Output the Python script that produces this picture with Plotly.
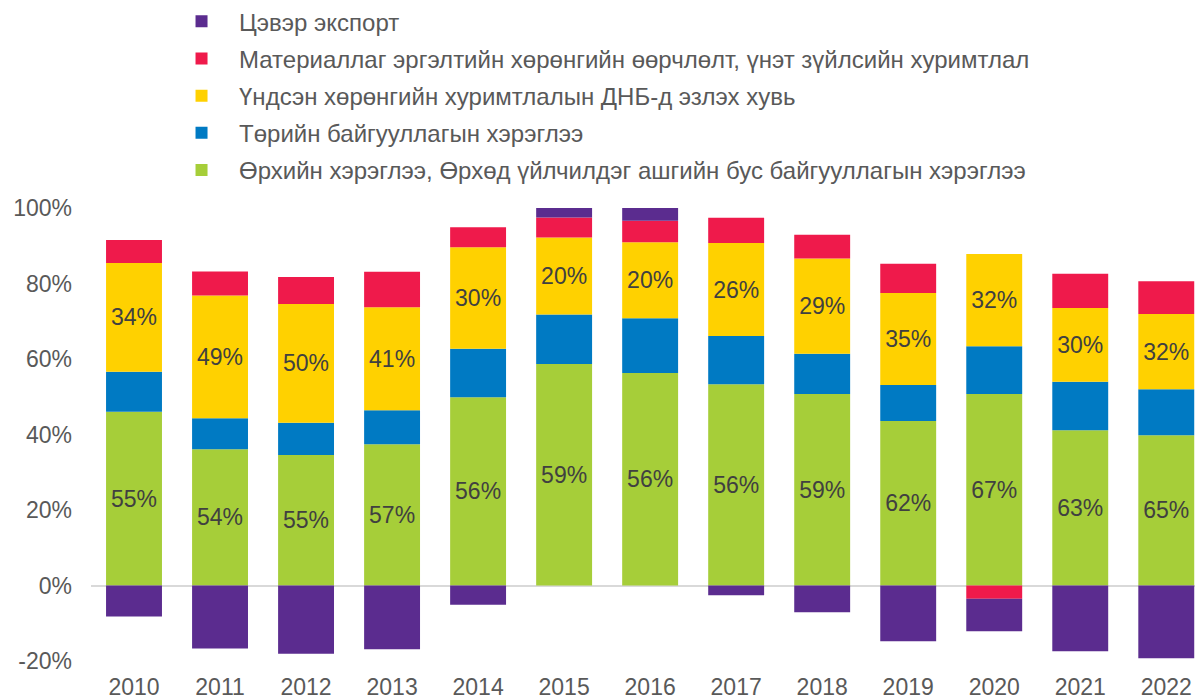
import plotly.graph_objects as go

years = ["2010","2011","2012","2013","2014","2015","2016","2017","2018","2019","2020","2021","2022"]

green = [46.0, 36.1, 34.6, 37.4, 49.9, 58.7, 56.3, 53.3, 50.7, 43.6, 50.7, 41.1, 39.8]
blue = [10.6, 8.2, 8.5, 9.0, 12.8, 13.1, 14.5, 12.8, 10.7, 9.5, 12.7, 12.9, 12.2]
yellow = [28.8, 32.5, 31.5, 27.3, 26.9, 20.4, 20.1, 24.6, 25.2, 24.4, 24.4, 19.5, 19.9]
red = [6.1, 6.4, 7.1, 9.4, 5.3, 5.3, 5.7, 6.7, 6.3, 7.7, -3.5, 9.1, 8.7]
purple = [-8.2, -16.7, -18.1, -16.9, -5.1, 2.5, 3.4, -2.6, -7.1, -14.8, -8.6, -17.4, -19.3]

green_labels = ["55%","54%","55%","57%","56%","59%","56%","56%","59%","62%","67%","63%","65%"]
yellow_labels = ["34%","49%","50%","41%","30%","20%","20%","26%","29%","35%","32%","30%","32%"]

y_tickvals = [-20, 0, 20, 40, 60, 80, 100]
y_ticktext = ["-20%", "0%", "20%", "40%", "60%", "80%", "100%"]

names = [
    "Өрхийн хэрэглээ, Өрхөд үйлчилдэг ашгийн бус байгууллагын хэрэглээ",
    "Төрийн байгууллагын хэрэглээ",
    "Үндсэн хөрөнгийн хуримтлалын ДНБ-д эзлэх хувь",
    "Материаллаг эргэлтийн хөрөнгийн өөрчлөлт, үнэт зүйлсийн хуримтлал",
    "Цэвэр экспорт",
]
colors = ["#A6CE39", "#007AC3", "#FFD100", "#EF1A4B", "#5B2C8F"]
series = [green, blue, yellow, red, purple]
texts = [green_labels, None, yellow_labels, None, None]
ranks = [5, 4, 3, 2, 1]

FONT = "Liberation Sans, Arial, sans-serif"

fig = go.Figure()
for i, (nm, col, vals, tx, rk) in enumerate(zip(names, colors, series, texts, ranks)):
    kw = {}
    if tx is not None:
        kw = dict(text=tx, textposition="inside", insidetextanchor="middle",
                  textfont=dict(size=23, color="#404040", family=FONT),
                  textangle=0)
    fig.add_trace(go.Bar(
        x=years, y=vals, name=nm, marker=dict(color=col, line=dict(width=0)),
        width=0.65, legendgroup=str(i), legendrank=rk, hoverinfo="skip", **kw))

fig.update_layout(
    barmode="relative",
    width=1203, height=699,
    margin=dict(l=83, r=0, t=200, b=46, autoexpand=False),
    plot_bgcolor="white", paper_bgcolor="white",
    font=dict(family=FONT, size=23, color="#595959"),
    uniformtext=dict(mode="show", minsize=10),
    showlegend=True,
    legend=dict(
        xref="paper", yref="paper",
        x=0.0652, y=1.461, xanchor="left", yanchor="top",
        traceorder="grouped", tracegroupgap=3, itemwidth=65,
        font=dict(size=24, color="#595959", family=FONT),
        bgcolor="rgba(0,0,0,0)",
    ),
    xaxis=dict(range=[-0.5, 12.52], showgrid=False, showline=False, ticks="",
               tickfont=dict(size=23, color="#595959"), tickangle=0,
               ticklabelstandoff=10),
    yaxis=dict(range=[-20, 100], tickvals=y_tickvals, ticktext=y_ticktext, showgrid=False,
               zeroline=True, zerolinecolor="#D9D9D9", zerolinewidth=2,
               tickfont=dict(size=23, color="#595959"), ticks="", ticklabelstandoff=18),
)

fig.write_html("out.html")
